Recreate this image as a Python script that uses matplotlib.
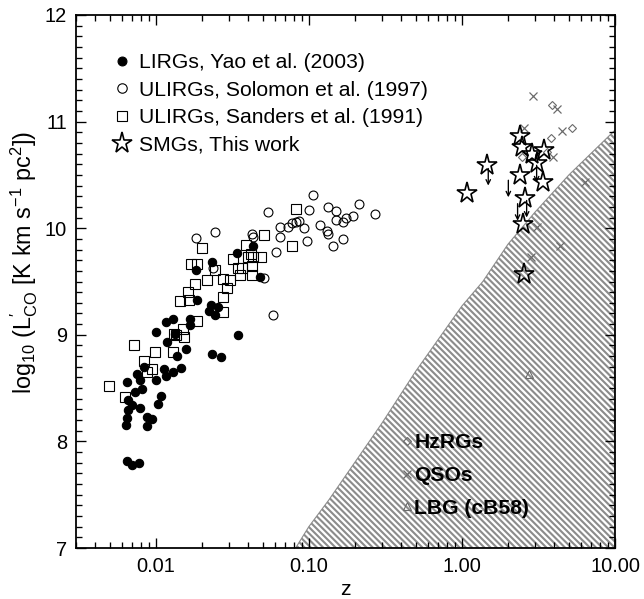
import matplotlib
matplotlib.use('Agg')
import numpy as np
import matplotlib.pyplot as plt
from matplotlib.lines import Line2D
from matplotlib.collections import LineCollection
from matplotlib.ticker import MultipleLocator, FixedLocator, FixedFormatter, LogLocator, NullFormatter

plt.rcParams['font.family'] = ['Liberation Sans', 'DejaVu Sans']
plt.rcParams['mathtext.fontset'] = 'custom'
plt.rcParams['mathtext.rm'] = 'Liberation Sans'
plt.rcParams['mathtext.it'] = 'Liberation Sans:italic'

# LIRGs, Yao et al. (2003)
yao_z = [0.0234, 0.0182, 0.0186, 0.0340, 0.0433, 0.0478, 0.0228, 0.0257, 0.0224, 0.0244,
         0.0116, 0.0129, 0.0168, 0.0167, 0.0100, 0.0134, 0.0345, 0.0119, 0.0157, 0.0138,
         0.0234, 0.0265, 0.0065, 0.0075, 0.0084, 0.0079, 0.0081, 0.0073, 0.0101, 0.0113,
         0.0117, 0.0130, 0.0146, 0.0108, 0.0104, 0.0066, 0.0070, 0.0079, 0.0066, 0.0065,
         0.0064, 0.0088, 0.0095, 0.0088, 0.0065, 0.0070, 0.0078]
yao_l = [9.68, 9.61, 9.33, 9.77, 9.83, 9.54, 9.28, 9.26, 9.22, 9.19,
         9.12, 9.15, 9.15, 9.09, 9.03, 9.01, 9.00, 8.93, 8.87, 8.80,
         8.82, 8.79, 8.56, 8.63, 8.70, 8.58, 8.49, 8.46, 8.58, 8.68,
         8.61, 8.65, 8.69, 8.43, 8.35, 8.39, 8.34, 8.31, 8.29, 8.22,
         8.15, 8.23, 8.21, 8.14, 7.82, 7.78, 7.80]

# ULIRGs, Solomon et al. (1997)
sol_z = [0.0183, 0.0244, 0.0237, 0.0426, 0.0433, 0.0545, 0.0508, 0.0585, 0.0614, 0.0646,
         0.0653, 0.0736, 0.0778, 0.0822, 0.0865, 0.0932, 0.0980, 0.1005, 0.1067, 0.118,
         0.1305, 0.1344, 0.1344, 0.1428, 0.1494, 0.1516, 0.166, 0.1677, 0.1762, 0.1929,
         0.2133, 0.27]
sol_l = [9.91, 9.96, 9.63, 9.95, 9.92, 10.15, 9.53, 9.19, 9.78, 10.01,
         9.92, 10.01, 10.05, 10.06, 10.07, 10.00, 9.88, 10.17, 10.31, 10.03,
         9.97, 9.95, 10.20, 9.83, 10.16, 10.08, 10.06, 9.90, 10.10, 10.11,
         10.23, 10.13]

# ULIRGs, Sanders et al. (1991)
san_z = [0.00495, 0.0063, 0.00725, 0.00843, 0.00882, 0.00946, 0.0099, 0.0130, 0.0131, 0.0151,
         0.0152, 0.0136, 0.0171, 0.0186, 0.0202, 0.0180, 0.0163, 0.0145, 0.0166, 0.0186,
         0.0217, 0.0243, 0.0275, 0.0290, 0.0305, 0.0275, 0.0275, 0.0320, 0.0345, 0.0354,
         0.0368, 0.0391, 0.0403, 0.0422, 0.0426, 0.0425, 0.0433, 0.0490, 0.0508, 0.0774,
         0.0826]
san_l = [8.52, 8.42, 8.90, 8.75, 8.65, 8.68, 8.84, 8.84, 9.01, 9.05,
         8.98, 9.00, 9.66, 9.66, 9.81, 9.48, 9.40, 9.32, 9.33, 9.13,
         9.51, 9.61, 9.52, 9.44, 9.51, 9.35, 9.21, 9.71, 9.63, 9.56,
         9.63, 9.84, 9.73, 9.76, 9.65, 9.56, 9.73, 9.73, 9.94, 9.83,
         10.18]

# SMGs, this work
smg_z = [2.39, 2.455, 2.854, 3.436, 1.45, 3.076, 2.39, 3.367, 1.073, 2.58, 2.517, 2.543]
smg_l = [10.865, 10.765, 10.696, 10.733, 10.593, 10.608, 10.499, 10.436, 10.333, 10.280, 10.036, 9.570]

# SMG upper limits
lim_z = [1.486, 2.01, 2.31, 2.647, 3.076]
lim_l = [10.56, 10.45, 10.23, 10.26, 10.59]

# HzRGs
hzrg_z = [3.86, 5.21, 3.80, 3.57, 2.45]
hzrg_l = [11.156, 10.937, 10.843, 10.718, 10.671]

# QSOs
qso_z = [2.90, 4.16, 4.48, 2.54, 3.95, 6.37, 3.08, 4.37, 2.81]
qso_l = [11.24, 11.115, 10.915, 10.937, 10.671, 10.437, 10.014, 9.833, 9.733]

# LBG (cB58)
lbg_z = [2.73]
lbg_l = [8.63]

# detection limit boundary
lim_curve_z = [0.082, 0.10, 0.135, 0.30, 0.50, 1.0, 1.37, 2.0, 3.0, 5.0, 10.0]
lim_curve_l = [7.0, 7.2, 7.45, 8.17, 8.66, 9.27, 9.50, 9.85, 10.15, 10.50, 10.92]

W, H = 644, 599
fig = plt.figure(figsize=(W / 80, H / 80), dpi=80)
ax = fig.add_axes([0.1175, 0.0851, 0.8375, 0.8899])

gray = '#6a6a6a'
hatch_gray = '#8c8c8c'
region = ax.fill(lim_curve_z + [10.0], lim_curve_l + [7.0], facecolor='white',
                 edgecolor=hatch_gray, lw=1.0, zorder=1)[0]

# diagonal hatching, drawn as lines clipped to the region
aw, ah = 0.8375 * W, 0.8899 * H
step = 6.2
segs = []
for c in np.arange(0, aw + ah + step, step):
    segs.append([((c - ah) / aw, 1.0), (c / aw, 0.0)])
hatch = LineCollection(segs, colors=hatch_gray, linewidths=1.9, transform=ax.transAxes, zorder=1.5)
hatch.set_clip_path(region)
ax.add_collection(hatch)

ax.plot(yao_z, yao_l, 'o', color='black', ms=7.5, zorder=3)
ax.plot(sol_z, sol_l, 'o', mfc='none', mec='black', ms=8, mew=1.0, zorder=3)
ax.plot(san_z, san_l, 's', mfc='none', mec='black', ms=8.3, mew=1.0, zorder=3)

ax.plot(hzrg_z, hzrg_l, 'D', mfc='none', mec=gray, ms=5, mew=1.0, zorder=3)
ax.plot(qso_z, qso_l, 'x', color=gray, ms=8, mew=1.1, zorder=3)
ax.plot(lbg_z, lbg_l, '^', mfc='none', mec=gray, ms=7.5, mew=1.0, zorder=3)

ax.plot(smg_z, smg_l, '*', mfc='none', mec='black', ms=19, mew=1.5, zorder=4)
for zz, ll in zip(lim_z, lim_l):
    ax.annotate('', xy=(zz, ll - 0.16), xytext=(zz, ll),
                arrowprops=dict(arrowstyle='->', lw=1.2, color='black',
                                shrinkA=0, shrinkB=0, mutation_scale=10), zorder=4)

ax.set_xscale('log')
ax.set_xlim(0.003, 10)
ax.set_ylim(7, 12)
ax.xaxis.set_major_locator(FixedLocator([0.01, 0.1, 1, 10]))
ax.xaxis.set_major_formatter(FixedFormatter(['0.01', '0.10', '1.00', '10.00']))
ax.xaxis.set_minor_locator(LogLocator(base=10, subs=range(2, 10)))
ax.xaxis.set_minor_formatter(NullFormatter())
ax.yaxis.set_major_locator(MultipleLocator(1))
ax.yaxis.set_minor_locator(MultipleLocator(0.1))

ax.tick_params(which='both', direction='in', top=True, right=True, labelsize=18, width=1.2, pad=8)
ax.tick_params(which='major', length=9)
ax.tick_params(which='minor', length=5)
for s in ax.spines.values():
    s.set_linewidth(1.6)
    s.set_zorder(5)

ax.set_xlabel('z', fontsize=19, labelpad=4)
ax.set_ylabel(r'log$_{10}$ (L$^{\prime}_{\rm CO}$ [K km s$^{-1}$ pc$^{2}$])', fontsize=21)
ax.yaxis.set_label_coords(-0.066, 0.535)

h1 = [Line2D([], [], ls='none', marker='o', color='black', ms=8),
      Line2D([], [], ls='none', marker='o', mfc='none', mec='black', ms=8.5, mew=1.0),
      Line2D([], [], ls='none', marker='s', mfc='none', mec='black', ms=8.5, mew=1.0),
      Line2D([], [], ls='none', marker='*', mfc='none', mec='black', ms=19, mew=1.5)]
leg1 = ax.legend(h1, ['LIRGs, Yao et al. (2003)', 'ULIRGs, Solomon et al. (1997)',
                      'ULIRGs, Sanders et al. (1991)', 'SMGs, This work'],
                 loc='upper left', bbox_to_anchor=(0.066, 0.928), frameon=False,
                 fontsize=19, handlelength=1.0, handletextpad=0.3, labelspacing=0.4,
                 borderpad=0, borderaxespad=0)
ax.add_artist(leg1)

h2 = [Line2D([], [], ls='none', marker='D', mfc='none', mec=gray, ms=5, mew=1.0),
      Line2D([], [], ls='none', marker='x', color=gray, ms=8, mew=1.1),
      Line2D([], [], ls='none', marker='^', mfc='none', mec=gray, ms=7.5, mew=1.0)]
leg2 = ax.legend(h2, ['HzRGs', 'QSOs', 'LBG (cB58)'], loc='upper left',
                 bbox_to_anchor=(0.6045, 0.215), frameon=False,
                 prop={'weight': 'bold', 'size': 19}, handlelength=0.5, handletextpad=0.1,
                 labelspacing=0.65, borderpad=0, borderaxespad=0)

fig.savefig('out.png', dpi=80)
